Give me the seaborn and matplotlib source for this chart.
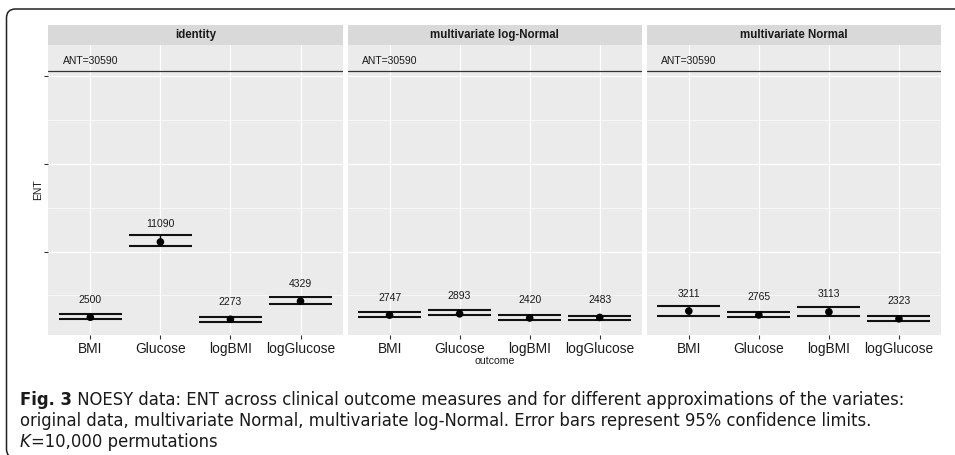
import pandas as pd
import matplotlib.pyplot as plt
import matplotlib.font_manager as fm
from matplotlib.patches import Rectangle, FancyBboxPatch
from matplotlib.transforms import IdentityTransform
from matplotlib.ticker import MultipleLocator
import seaborn as sns

# values
methods = ['identity', 'multivariate log-Normal', 'multivariate Normal']
outcomes = ['BMI', 'Glucose', 'logBMI', 'logGlucose']

ent_identity = [2500, 11090, 2273, 4329]
lower_identity = [2300, 10600, 2000, 4050]
upper_identity = [2840, 11850, 2570, 4810]

ent_lognormal = [2747, 2893, 2420, 2483]
lower_lognormal = [2530, 2730, 2190, 2220]
upper_lognormal = [3070, 3300, 2730, 2680]

ent_normal = [3211, 2765, 3113, 2323]
lower_normal = [2650, 2500, 2650, 2080]
upper_normal = [3750, 3100, 3640, 2680]

ant = 30590

sns.set_theme(style='darkgrid', rc={
    'axes.facecolor': '#EBEBEB',
    'grid.color': 'white',
    'figure.facecolor': 'white',
})
plt.rcParams['font.family'] = ['Liberation Sans', 'DejaVu Sans']

# caption in the picture uses a condensed face; use one if there is any
cap_family = ['Liberation Sans', 'DejaVu Sans']
cap_stretch = 'normal'
for f in fm.fontManager.ttflist:
    if 'Narrow' in f.name or 'Condensed' in f.name:
        cap_family = [f.name, 'DejaVu Sans']
        break
    if f.stretch in ('condensed', 'semi-condensed', 600, 500):
        cap_family = [f.name, 'DejaVu Sans']
        cap_stretch = f.stretch
        break

rows = []
for m, ent, lo, up in zip(methods,
                          [ent_identity, ent_lognormal, ent_normal],
                          [lower_identity, lower_lognormal, lower_normal],
                          [upper_identity, upper_lognormal, upper_normal]):
    for i, o in enumerate(outcomes):
        rows.append({'method': m, 'outcome': o, 'pos': i,
                     'ENT': ent[i], 'lower': lo[i], 'upper': up[i]})
df = pd.DataFrame(rows)


def draw_panel(data, **kws):
    ax = plt.gca()
    ax.vlines(data['pos'], data['lower'], data['upper'], color='black', lw=1.0, zorder=3)
    ax.hlines(data['lower'], data['pos'] - 0.45, data['pos'] + 0.45, color='#111111', lw=1.5, zorder=3)
    ax.hlines(data['upper'], data['pos'] - 0.45, data['pos'] + 0.45, color='#111111', lw=1.5, zorder=3)
    sns.scatterplot(data=data, x='pos', y='ENT', color='black', s=30,
                    edgecolor='none', zorder=4, ax=ax)
    for _, r in data.iterrows():
        ax.text(r['pos'], r['ENT'] + 2000, f"{r['ENT']:.0f}", ha='center', va='center',
                fontsize=7.5, color='#1a1a1a')
    ax.axhline(ant, color='#333333', lw=0.9, zorder=2)
    ax.text(0, ant + 1100, f'ANT={ant}', ha='center', va='center', fontsize=7.5, color='#1a1a1a')


g = sns.FacetGrid(df, col='method', col_order=methods, sharey=True, height=4, aspect=1)
g.map_dataframe(draw_panel)
fig = g.figure
fig.set_dpi(100)
fig.set_size_inches(9.55, 4.55)
fig.subplots_adjust(left=48.3 / 955, right=941 / 955, bottom=1 - 335 / 455,
                    top=1 - 45 / 455, wspace=5 / 294.3)
g.set_titles('')

for k, (ax, m) in enumerate(zip(g.axes.flat, methods)):
    ax.set_xlim(-0.6, 3.6)
    ax.set_ylim(479, 33554)
    ax.set_xticks(range(len(outcomes)))
    ax.set_xticklabels(outcomes)
    ax.set_yticks([10000, 20000, 30000])
    ax.set_yticklabels([])
    ax.yaxis.set_minor_locator(MultipleLocator(5000))
    ax.grid(which='major', color='white', lw=0.9)
    ax.grid(which='minor', axis='y', color='white', lw=0.45)
    ax.set_xlabel('')
    ax.set_ylabel('')
    ax.set_title('')
    for s in ax.spines.values():
        s.set_visible(False)
    ax.tick_params(axis='x', which='major', bottom=True, length=2.8, width=0.8,
                   color='#333333', labelsize=9.9, labelcolor='#1a1a1a', pad=2.0)
    ax.tick_params(axis='y', which='major', left=(k == 0), length=2.8, width=0.8,
                   color='#333333')
    ax.tick_params(axis='y', which='minor', left=False)
    # strip
    strip_h = 20 / 290
    ax.add_patch(Rectangle((0, 1), 1, strip_h, transform=ax.transAxes,
                           facecolor='#D9D9D9', edgecolor='none', clip_on=False))
    ax.text(0.5, 1 + strip_h / 2, m, transform=ax.transAxes, ha='center', va='center',
            fontsize=8.3, fontweight='bold', color='#1a1a1a')

fig.text(38 / 955, 1 - 190 / 455, 'ENT', rotation=90, ha='center', va='center',
         fontsize=7.5, color='#1a1a1a')
fig.text(494.5 / 955, 1 - 361 / 455, 'outcome', ha='center', va='center',
         fontsize=7.6, color='#1a1a1a')

# caption box
fig.add_artist(FancyBboxPatch((6.5, -3), 970, 449, boxstyle='round,pad=0,rounding_size=9',
                              transform=IdentityTransform(), fill=False, lw=1.1,
                              ec='#222222'))

renderer = fig.canvas.get_renderer()
cap_size = 11.0
x0 = 20 / 955
line1 = ' NOESY data: ENT across clinical outcome measures and for different approximations of the variates:'
line2 = 'original data, multivariate Normal, multivariate log-Normal. Error bars represent 95% confidence limits.'
ys = [1 - 400 / 455, 1 - 421 / 455, 1 - 442 / 455]
cap_kw = dict(family=cap_family, stretch=cap_stretch, va='center', ha='left', color='#1a1a1a')

# fit the first line to the width seen in the picture
probe = fig.text(0, 0, 'Fig. 3' + line1, fontsize=cap_size, family=cap_family, stretch=cap_stretch)
w = probe.get_window_extent(renderer).width
probe.remove()
cap_size = min(cap_size * 874 / w, 14)

b = fig.text(x0, ys[0], 'Fig. 3', fontsize=cap_size, fontweight='bold', **cap_kw)
bw = b.get_window_extent(renderer).width / 955
fig.text(x0 + bw, ys[0], line1, fontsize=cap_size, **cap_kw)
fig.text(x0, ys[1], line2, fontsize=cap_size, **cap_kw)
kt = fig.text(x0, ys[2], 'K', fontsize=cap_size, style='italic', **cap_kw)
kw = kt.get_window_extent(renderer).width / 955
fig.text(x0 + kw, ys[2], '=10,000 permutations', fontsize=cap_size, **cap_kw)

fig.savefig('out.png', dpi=100)
